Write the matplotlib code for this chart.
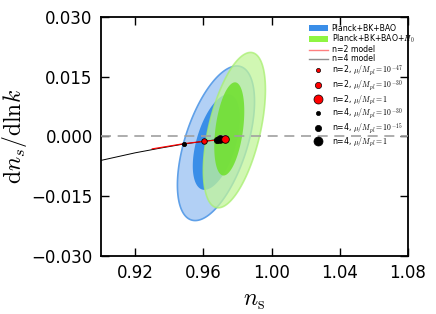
import numpy as np
import matplotlib
matplotlib.use("Agg")
import matplotlib.pyplot as plt
from matplotlib.patches import Patch
from matplotlib.lines import Line2D

plt.rcParams['mathtext.fontset'] = 'cm'
plt.rcParams['font.family'] = 'DejaVu Sans'

# Contour ellipses: center x, center y, half-extent x, half-extent y, correlation
blue_outer = [0.9674, -0.0017, 0.0226, 0.0194, 0.54]
blue_inner = [0.9676, -0.0014, 0.0138, 0.0120, 0.50]
green_outer = [0.9782, 0.0016, 0.0182, 0.0195, 0.52]
green_inner = [0.9752, 0.0019, 0.0088, 0.0117, 0.38]

# model curves
n4_x = [0.900, 0.920, 0.935, 0.9484, 0.9604, 0.9698]
n4_y = [-0.0060, -0.0041, -0.0029, -0.0019, -0.0012, -0.0007]
n2_x = [0.930, 0.940, 0.9484, 0.9604, 0.9727]
n2_y = [-0.0031, -0.0024, -0.0018, -0.0012, -0.0007]

# points
n2_labels = [r"n=2, $\mu/M_{pl}=10^{-47}$", r"n=2, $\mu/M_{pl}=10^{-30}$", r"n=2, $\mu/M_{pl}=1$"]
n2_px = [0.9715, 0.9604, 0.9727]
n2_py = [-0.0007, -0.0012, -0.0007]
n4_labels = [r"n=4, $\mu/M_{pl}=10^{-30}$", r"n=4, $\mu/M_{pl}=10^{-15}$", r"n=4, $\mu/M_{pl}=1$"]
n4_px = [0.9484, 0.9680, 0.9698]
n4_py = [-0.0019, -0.0008, -0.0007]

xticks = [0.92, 0.96, 1.00, 1.04, 1.08]
yticks = [-0.030, -0.015, 0.000, 0.015, 0.030]


def ell(p, n=300):
    cx, cy, hx, hy, r = p
    t = np.linspace(0, 2 * np.pi, n)
    x = cx + hx * np.cos(t)
    y = cy + hy * (r * np.cos(t) + np.sqrt(1 - r * r) * np.sin(t))
    return x, y


fig = plt.figure(figsize=(4.36, 3.14), dpi=100)
ax = fig.add_axes([0.2317, 0.1847, 0.7041, 0.7612])

x, y = ell(blue_outer)
ax.fill(x, y, facecolor='#b2d0f5', edgecolor='#5fa0e8', lw=1.2, zorder=1)
x, y = ell(blue_inner)
ax.fill(x, y, facecolor='#3a8ee8', edgecolor='none', zorder=2)
x, y = ell(green_outer)
ax.fill(x, y, facecolor='#c2f59a', edgecolor='#a8ef70', lw=1.2, alpha=0.75, zorder=3)
x, y = ell(green_inner)
ax.fill(x, y, facecolor='#72e032', edgecolor='none', alpha=0.9, zorder=4)

ax.axhline(0, color='#a0a0a0', ls=(0, (6, 4)), lw=1.2, zorder=5)

ax.plot(n4_x, n4_y, color='black', lw=0.7, zorder=6)
ax.plot(n2_x, n2_y, color='red', lw=0.8, zorder=7)

n4_sizes = [3, 4.5, 5.5]
n2_sizes = [3, 4, 5.5]
for xx, yy, s in zip(n4_px, n4_py, n4_sizes):
    ax.plot([xx], [yy], 'o', color='black', ms=s, mec='black', mew=0.6, zorder=8)
for xx, yy, s in zip(n2_px, n2_py, n2_sizes):
    ax.plot([xx], [yy], 'o', color='red', ms=s, mec='black', mew=0.6, zorder=9)

ax.set_xlim(0.90, 1.08)
ax.set_ylim(-0.030, 0.030)
ax.set_xticks(xticks)
ax.set_xticklabels(["%.2f" % v for v in xticks])
ax.set_yticks(yticks)
ax.set_yticklabels([("%.3f" % v).replace('-', '\u2212') for v in yticks])
ax.tick_params(direction='in', top=True, right=True, length=6, width=1, labelsize=12, pad=6)
for s in ax.spines.values():
    s.set_linewidth(1.3)

ax.set_xlabel(r"$n_\mathrm{s}$", fontsize=17)
ax.set_ylabel(r"$\mathrm{d}n_s/\mathrm{dln}k$", fontsize=17, labelpad=2)

handles = [
    Patch(facecolor='#3a8ee8', edgecolor='none'),
    Patch(facecolor='#8ff542', edgecolor='none'),
    Line2D([], [], color='#ff8080', lw=1),
    Line2D([], [], color='#909090', lw=1),
]
labels = ["Planck+BK+BAO", r"Planck+BK+BAO+$H_0$", "n=2 model", "n=4 model"]
for lab, s in zip(n2_labels, [3, 4.5, 6.5]):
    handles.append(Line2D([], [], ls='none', marker='o', color='red', mec='black', mew=0.5, ms=s))
    labels.append(lab)
for lab, s in zip(n4_labels, [3, 4.5, 6.5]):
    handles.append(Line2D([], [], ls='none', marker='o', color='black', mec='black', mew=0.5, ms=s))
    labels.append(lab)

ax.legend(handles, labels, loc='upper left', bbox_to_anchor=(0.66, 0.995), frameon=False,
          fontsize=5.6, handlelength=2.4, labelspacing=0.02, handletextpad=0.5, borderpad=0.2)

fig.savefig("out.png", dpi=100, facecolor='white')
